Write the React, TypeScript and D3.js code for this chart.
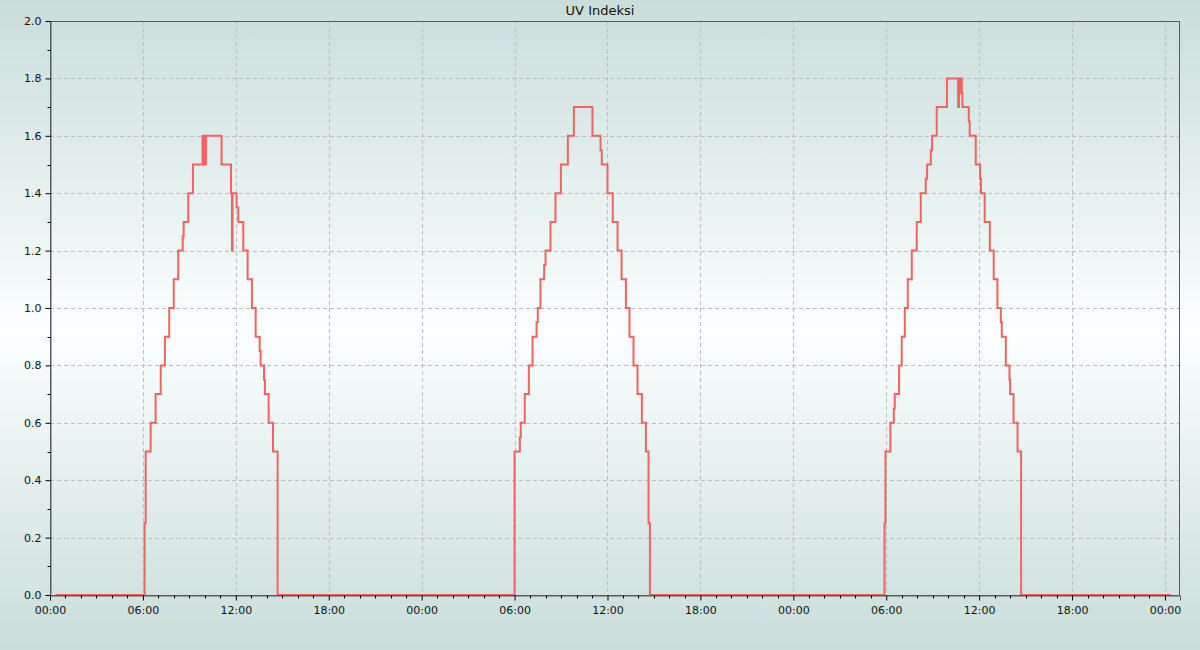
import React, { useEffect, useRef } from "react";
import * as d3 from "d3";

// ---- Data (hours since 00:00 of each day, UV index value held until next step) ----
const seriesStartHour = 0.37;
const seriesEndHour = 72.35;

const day1Hours = [6.11, 6.18, 6.50, 6.82, 7.15, 7.42, 7.70, 7.99, 8.28, 8.57, 8.63, 8.93, 9.23, 9.85, 9.92, 9.96, 10.01, 10.07, 11.08, 11.69, 11.75, 11.79, 12.05, 12.16, 12.48, 12.76, 13.04, 13.28, 13.54, 13.60, 13.82, 13.88, 14.12, 14.40, 14.70];
const day1UV = [0.25, 0.5, 0.6, 0.7, 0.8, 0.9, 1.0, 1.1, 1.2, 1.25, 1.3, 1.4, 1.5, 1.6, 1.5, 1.6, 1.5, 1.6, 1.5, 1.4, 1.2, 1.4, 1.35, 1.3, 1.2, 1.1, 1.0, 0.9, 0.85, 0.8, 0.75, 0.7, 0.6, 0.5, 0];

const day2Hours = [6.00, 6.34, 6.40, 6.66, 6.92, 7.16, 7.42, 7.50, 7.67, 7.91, 8.00, 8.32, 8.64, 8.99, 9.44, 9.83, 11.03, 11.55, 11.63, 12.00, 12.34, 12.65, 12.91, 13.19, 13.42, 13.68, 13.94, 14.22, 14.48, 14.65, 14.74];
const day2UV = [0.5, 0.55, 0.6, 0.7, 0.8, 0.9, 0.95, 1.0, 1.1, 1.15, 1.2, 1.3, 1.4, 1.5, 1.6, 1.7, 1.6, 1.55, 1.5, 1.4, 1.3, 1.2, 1.1, 1.0, 0.9, 0.8, 0.7, 0.6, 0.5, 0.25, 0];

const day3Hours = [5.89, 5.95, 6.27, 6.49, 6.55, 6.83, 7.00, 7.20, 7.39, 7.65, 7.97, 8.23, 8.55, 8.64, 8.88, 8.96, 9.26, 9.92, 10.64, 10.70, 10.77, 10.81, 10.88, 10.92, 11.33, 11.39, 11.78, 12.06, 12.12, 12.36, 12.69, 12.94, 13.18, 13.40, 13.46, 13.72, 13.96, 14.00, 14.22, 14.48, 14.71];
const day3UV = [0.25, 0.5, 0.6, 0.65, 0.7, 0.8, 0.9, 1.0, 1.1, 1.2, 1.3, 1.4, 1.45, 1.5, 1.55, 1.6, 1.7, 1.8, 1.7, 1.8, 1.75, 1.8, 1.75, 1.7, 1.65, 1.6, 1.5, 1.45, 1.4, 1.3, 1.2, 1.1, 1.0, 0.95, 0.9, 0.8, 0.75, 0.7, 0.6, 0.5, 0];

const yTickValues = [0, 0.2, 0.4, 0.6, 0.8, 1.0, 1.2, 1.4, 1.6, 1.8, 2.0];
const xMajorHours = [0, 6, 12, 18, 24, 30, 36, 42, 48, 54, 60, 66, 72];
const chartTitle = "UV Indeksi";

const W = 1200;
const H = 650;
const M = { left: 50, right: 20, top: 21, bottom: 55 };

export default function App() {
  const ref = useRef<SVGSVGElement | null>(null);

  useEffect(() => {
    document.body.style.margin = "0";
    const svg = d3.select(ref.current);
    svg.selectAll("*").remove();

    const x = d3.scaleLinear().domain([0, 72.97]).range([M.left, W - M.right]);
    const y = d3.scaleLinear().domain([0, 2]).range([H - M.bottom, M.top]);

    // background gradient
    const defs = svg.append("defs");
    const grad = defs.append("linearGradient").attr("id", "bg").attr("x1", 0).attr("y1", 0).attr("x2", 0).attr("y2", 1);
    grad.append("stop").attr("offset", "0%").attr("stop-color", "#c9dddb");
    grad.append("stop").attr("offset", "51%").attr("stop-color", "#fbffff");
    grad.append("stop").attr("offset", "100%").attr("stop-color", "#c9dddb");
    svg.append("rect").attr("width", W).attr("height", H).attr("fill", "url(#bg)");

    const font = "DejaVu Sans, sans-serif";

    // grid
    const g = svg.append("g");
    g.selectAll("line.hg")
      .data(yTickValues.filter((v) => v > 0 && v < 2))
      .join("line")
      .attr("x1", M.left).attr("x2", W - M.right)
      .attr("y1", (d) => Math.round(y(d)) + 0.5).attr("y2", (d) => Math.round(y(d)) + 0.5)
      .attr("stroke", "#bdbdbd").attr("stroke-dasharray", "4,3").attr("stroke-width", 1);
    g.selectAll("line.vg")
      .data(xMajorHours.filter((v) => v > 0))
      .join("line")
      .attr("x1", (d) => Math.round(x(d)) + 0.5).attr("x2", (d) => Math.round(x(d)) + 0.5)
      .attr("y1", M.top).attr("y2", H - M.bottom)
      .attr("stroke", "#bdbdbd").attr("stroke-dasharray", "4,3").attr("stroke-width", 1);

    // series
    const pts: [number, number][] = [[seriesStartHour, 0]];
    day1Hours.forEach((h, i) => pts.push([h, day1UV[i]]));
    day2Hours.forEach((h, i) => pts.push([24 + h, day2UV[i]]));
    day3Hours.forEach((h, i) => pts.push([48 + h, day3UV[i]]));
    pts.push([seriesEndHour, 0]);

    const line = d3.line<[number, number]>()
      .x((d) => x(d[0]))
      .y((d) => y(d[1]))
      .curve(d3.curveStepAfter);
    svg.append("path").datum(pts).attr("d", line).attr("fill", "none")
      .attr("stroke", "#f46262").attr("stroke-width", 2);

    // frame
    svg.append("rect")
      .attr("x", M.left + 0.5).attr("y", M.top + 0.5)
      .attr("width", W - M.right - M.left - 1).attr("height", H - M.bottom - M.top)
      .attr("fill", "none").attr("stroke", "#5a5a5a").attr("stroke-width", 1);

    // y axis
    const yAxis = d3.axisLeft(y).tickValues(yTickValues).tickSize(5).tickPadding(4)
      .tickFormat((d) => d3.format(".1f")(d as number));
    const ya = svg.append("g").attr("transform", `translate(${M.left + 0.5},0)`).call(yAxis);
    ya.select(".domain").attr("stroke", "#5a5a5a");
    ya.selectAll("text").attr("font-family", font).attr("font-size", 11).attr("fill", "#111");
    const yMinor = d3.range(1, 20, 2).map((v) => v / 10);
    ya.selectAll("line.minor").data(yMinor).join("line").attr("class", "minor")
      .attr("x1", 0).attr("x2", -3).attr("y1", (d) => Math.round(y(d)) + 0.5).attr("y2", (d) => Math.round(y(d)) + 0.5)
      .attr("stroke", "#000");

    // x axis
    const xAxis = d3.axisBottom(x).tickValues(xMajorHours).tickSize(5).tickPadding(6)
      .tickFormat((d) => `${String((d as number) % 24).padStart(2, "0")}:00`);
    const xa = svg.append("g").attr("transform", `translate(0,${H - M.bottom + 0.5})`).call(xAxis);
    xa.select(".domain").attr("stroke", "#5a5a5a");
    xa.selectAll("text").attr("font-family", font).attr("font-size", 11).attr("fill", "#111");
    const xMinor = d3.range(1, 73).filter((h) => h % 6 !== 0);
    xa.selectAll("line.minor").data(xMinor).join("line").attr("class", "minor")
      .attr("x1", (d) => Math.round(x(d)) + 0.5).attr("x2", (d) => Math.round(x(d)) + 0.5)
      .attr("y1", 0).attr("y2", 3).attr("stroke", "#000");

    // title
    svg.append("text").attr("x", W / 2).attr("y", 15).attr("text-anchor", "middle")
      .attr("font-family", font).attr("font-size", 13).attr("fill", "#111").text(chartTitle);
  }, []);

  return (
    <svg ref={ref} width={W} height={H} style={{ display: "block", position: "absolute", left: 0, top: 0 }} />
  );
}
